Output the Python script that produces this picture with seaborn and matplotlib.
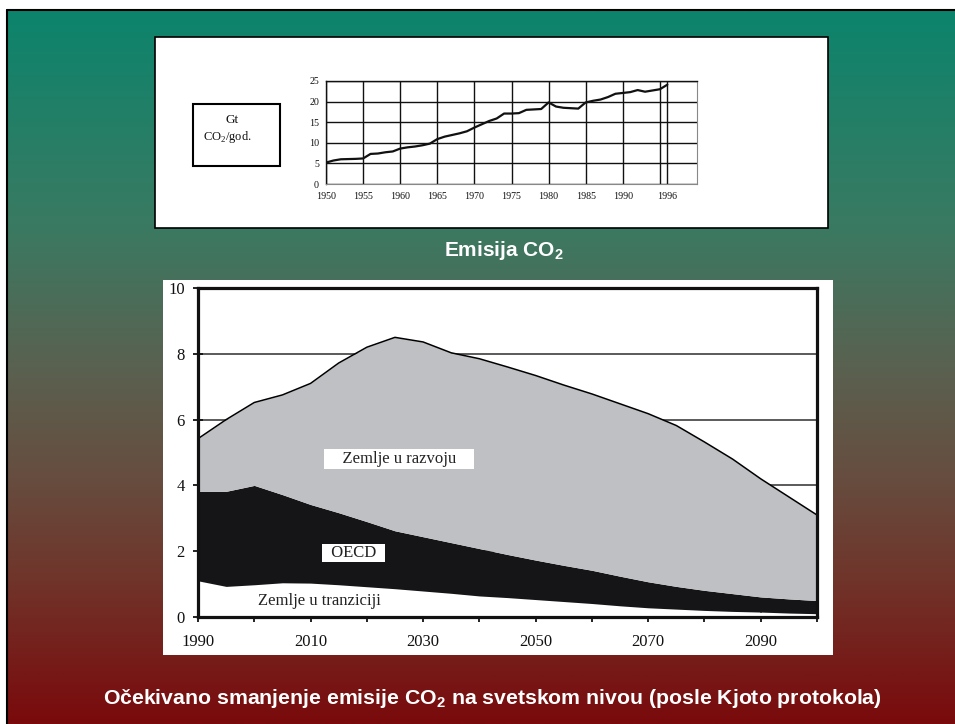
import numpy as np
import pandas as pd
import seaborn as sns
import matplotlib.pyplot as plt
from matplotlib.colors import LinearSegmentedColormap
from matplotlib.patches import Rectangle

# svetska emisija CO2, 1950-1996 (Gt CO2/god.)
godine = list(range(1950, 1997))
emisija = [5.2, 5.7, 6.0, 6.05, 6.1, 6.2, 7.3, 7.4, 7.7, 7.9,
           8.6, 8.9, 9.1, 9.4, 9.8, 10.9, 11.5, 11.9, 12.3, 12.8,
           13.7, 14.5, 15.3, 15.9, 17.1, 17.1, 17.2, 18.0, 18.1, 18.2,
           19.8, 18.8, 18.5, 18.4, 18.3, 19.8, 20.2, 20.5, 21.1, 21.9,
           22.1, 22.3, 22.8, 22.4, 22.7, 23.0, 24.1]
god_ticks = [1950, 1955, 1960, 1965, 1970, 1975, 1980, 1985, 1990, 1996]

# projekcija posle Kjota, po grupama zemalja
godine_p = list(range(1990, 2101, 5))
tranzicija = [1.10, 0.93, 0.98, 1.04, 1.03, 0.98, 0.92, 0.86, 0.79, 0.72, 0.64, 0.59,
              0.53, 0.47, 0.41, 0.34, 0.28, 0.24, 0.20, 0.17, 0.15, 0.12, 0.10]
oecd = [2.72, 2.89, 3.02, 2.68, 2.39, 2.19, 1.98, 1.76, 1.65, 1.54, 1.44, 1.31,
        1.20, 1.10, 1.01, 0.90, 0.79, 0.69, 0.61, 0.54, 0.46, 0.43, 0.40]
razvoj = [1.60, 2.18, 2.52, 3.03, 3.68, 4.55, 5.30, 5.88, 5.92, 5.77, 5.77, 5.70,
          5.61, 5.48, 5.36, 5.24, 5.11, 4.89, 4.51, 4.09, 3.59, 3.10, 2.60]

sns.set_theme(style="white")
plt.rcParams['font.family'] = ['Liberation Serif', 'DejaVu Serif']

W, H = 955, 724
fig = plt.figure(figsize=(W / 100, H / 100), dpi=100)


def px_axes(l, t, r, b):
    return fig.add_axes([l / W, 1 - b / H, (r - l) / W, (b - t) / H])


# pozadina slajda
bg = fig.add_axes([0, 0, 1, 1])
stops = [(0.0, '#0c846c'), (0.3, '#3a7a62'), (0.5, '#5a6150'),
         (0.65, '#664e40'), (0.8, '#70342a'), (1.0, '#7a0a0c')]
cmap = LinearSegmentedColormap.from_list('pozadina', stops)
grad = np.linspace(0, 1, 512).reshape(-1, 1)
bg.imshow(grad, cmap=cmap, aspect='auto', extent=(7, W, H, 10), zorder=0)
bg.plot([7, 7], [10, H], color='black', lw=1.5)
bg.plot([7, W], [10, 10], color='black', lw=1.5)
bg.add_patch(Rectangle((155, 37), 673, 191, fc='white', ec='black', lw=1.2))
bg.add_patch(Rectangle((163, 280), 670, 375, fc='white', ec='none'))
bg.add_patch(Rectangle((193, 104), 87, 62, fc='white', ec='black', lw=1.5))
bg.text(232, 120, 'Gt', fontsize=9.5, ha='center', va='center', color='#111')
bg.text(227, 137, 'CO$_\\mathregular{2}$/god.', fontsize=9, ha='center', va='center', color='#111')
bg.text(504, 256, 'Emisija CO$_\\mathregular{2}$', fontsize=15, fontweight='bold',
        family='Liberation Sans', color='white', ha='center', va='baseline')
bg.text(492, 704, 'Očekivano smanjenje emisije CO$_\\mathregular{2}$ na svetskom nivou (posle Kjoto protokola)',
        fontsize=15.3, fontweight='bold', family='Liberation Sans', color='white',
        ha='center', va='baseline')
bg.set_xlim(0, W)
bg.set_ylim(H, 0)
bg.axis('off')

# gornji grafik: emisija 1950-1996
ax1 = px_axes(326, 81, 697, 184)
hist = pd.DataFrame({'godina': godine, 'emisija': emisija})
sns.lineplot(data=hist, x='godina', y='emisija', color='#111', lw=1.6, ax=ax1)
ax1.set_xlim(1950, 2000)
ax1.set_ylim(0, 25)
ax1.set_xticks(god_ticks)
ax1.set_xticks([1995], minor=True)
ax1.set_yticks([0, 5, 10, 15, 20, 25])
ax1.tick_params(axis='both', which='both', length=0, labelsize=7.2, colors='#111')
ax1.tick_params(axis='x', pad=6)
ax1.tick_params(axis='y', pad=5)
ax1.grid(True, which='both', color='#111', lw=1.0)
ax1.set_xlabel('')
ax1.set_ylabel('')
for s in ['left', 'top']:
    ax1.spines[s].set_color('#111')
    ax1.spines[s].set_linewidth(1.0)
for s in ['right', 'bottom']:
    ax1.spines[s].set_color('#888')
    ax1.spines[s].set_linewidth(0.8)

# donji grafik: ocekivano smanjenje emisije
ax2 = px_axes(198, 288, 817, 617)
proj = pd.DataFrame({'godina': godine_p, 'tranzicija': tranzicija,
                     'oecd': oecd, 'razvoj': razvoj})
proj['g1'] = proj['tranzicija']
proj['g2'] = proj['g1'] + proj['oecd']
proj['g3'] = proj['g2'] + proj['razvoj']
ax2.fill_between(proj['godina'], 0, proj['g1'], color='white', lw=0)
ax2.fill_between(proj['godina'], proj['g1'], proj['g2'], color='#151517', lw=0)
ax2.fill_between(proj['godina'], proj['g2'], proj['g3'], color='#bfc0c3', lw=0)
sns.lineplot(data=proj, x='godina', y='g3', color='black', lw=1.1, ax=ax2)
ax2.set_xlim(1990, 2100)
ax2.set_ylim(0, 10)
ax2.set_xticks(range(1990, 2100, 20))
ax2.set_xticks(range(2000, 2101, 20), minor=True)
ax2.set_yticks(range(0, 11, 2))
ax2.tick_params(axis='both', which='both', direction='inout', length=7, width=1.3,
                color='#111', labelsize=12, labelcolor='#111')
ax2.tick_params(axis='x', which='both', pad=9, bottom=True)
ax2.tick_params(axis='y', pad=6, left=True)
ax2.grid(axis='y', color='#5a5a5a', lw=1.4)
ax2.set_axisbelow(True)
ax2.set_xlabel('')
ax2.set_ylabel('')
for s in ax2.spines.values():
    s.set_color('#111')
    s.set_linewidth(2.3)
ax2.text(2025.7, 4.8, '    Zemlje u razvoju    ', fontsize=12, ha='center', va='center',
         color='#222', bbox=dict(boxstyle='square,pad=0.12', fc='white', ec='none'))
ax2.text(2017.7, 1.95, '  OECD  ', fontsize=12, ha='center', va='center',
         color='#222', bbox=dict(boxstyle='square,pad=0.05', fc='white', ec='none'))
ax2.text(2011.6, 0.5, 'Zemlje u tranziciji', fontsize=12, ha='center', va='center',
         color='#222')

fig.savefig('out.png', dpi=100)
